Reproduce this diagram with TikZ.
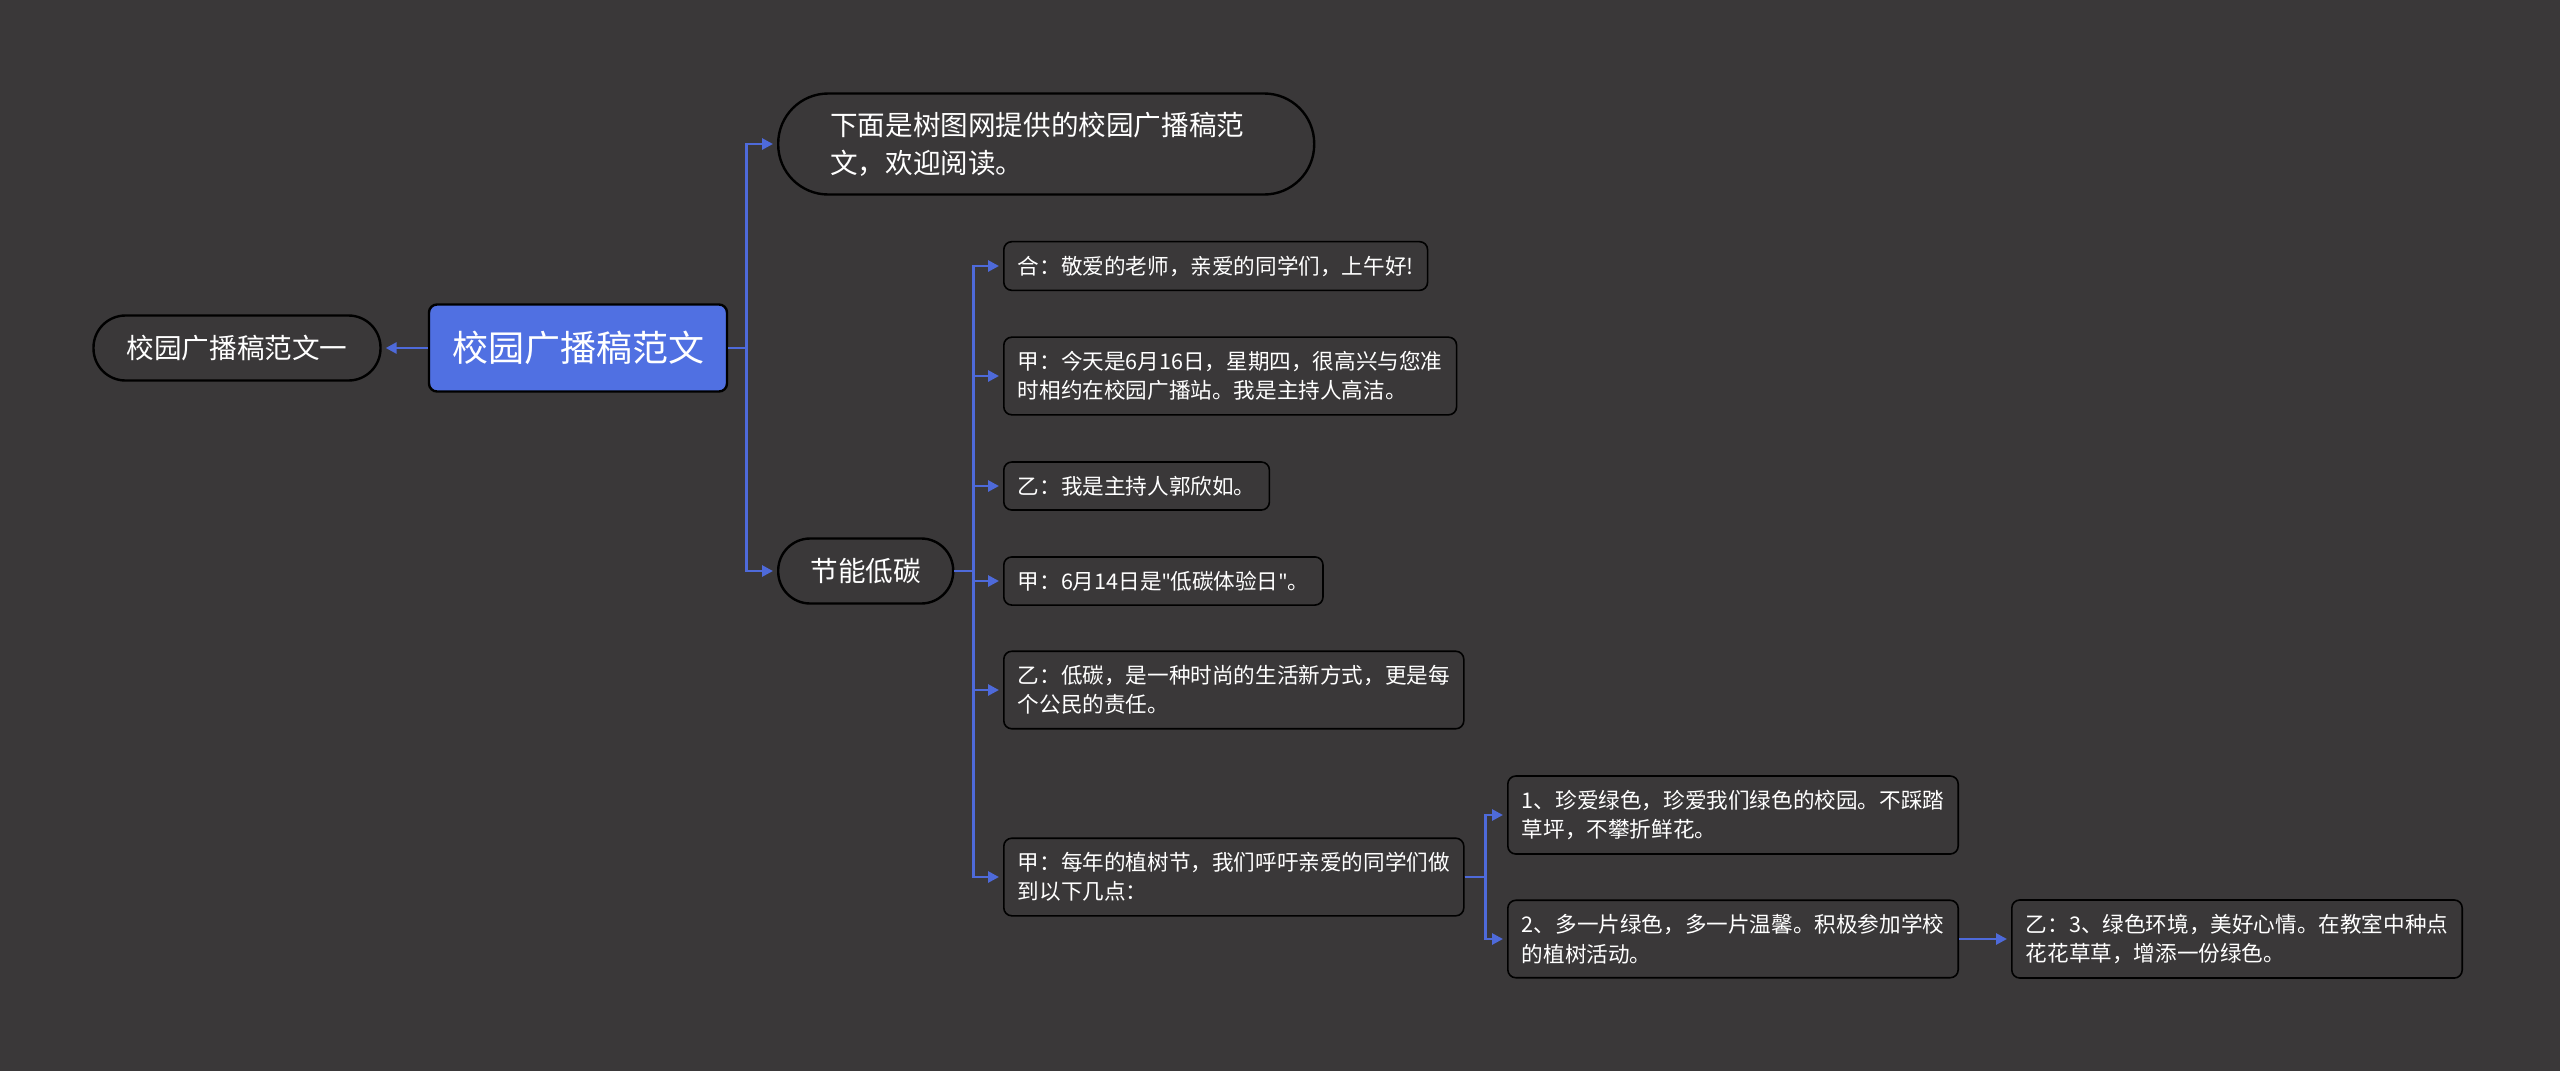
\documentclass[tikz,border=0pt]{standalone}
\usepackage{fontspec}
\setmainfont{Noto Sans CJK SC}
\newfontfamily\latinquote{Noto Sans}
\usetikzlibrary{arrows.meta, positioning}

\definecolor{bgdark}{RGB}{58,56,57}
\definecolor{rootblue}{RGB}{80,112,226}
\definecolor{linkblue}{RGB}{78,106,218}

\begin{document}
\begin{tikzpicture}[
                x=0.5pt, y=-0.5pt,
                >={Triangle[length=5.5pt,width=5.5pt]},
                topic/.style={draw=black, line width=1.2pt, fill=bgdark, text=white, rounded corners=16pt,
                    minimum height=32.5pt, font=\fontsize{13.8}{18.8}\selectfont},
                root/.style={draw=black, line width=1.2pt, fill=rootblue, text=white, rounded corners=4pt,
                    minimum width=149pt, minimum height=43.5pt, font=\fontsize{18}{22}\selectfont},
                leaf/.style={draw=black, line width=0.8pt, fill=bgdark, text=white, rounded corners=4pt,
                    align=left, inner xsep=7pt, inner ysep=7pt, minimum height=24pt, anchor=west,
                    font=\fontsize{10.8}{14.7}\selectfont},
                link/.style={draw=linkblue, line width=1.4pt, ->, shorten >=2pt}
            ]
            \useasboundingbox[fill=bgdark] (0,0) rectangle (2560,1071);
            \node[root] (root) at (578,348) {校园广播稿范文};
            \node[topic, minimum width=143.5pt] (sample1) at (237,348) {校园广播稿范文一};
            \node[topic, anchor=west, minimum height=50.5pt, rounded corners=25pt, text width=216pt,
                inner xsep=26pt, align=left] (notice) at (777,144) {下面是树图网提供的校园广播稿范\\文，欢迎阅读。};
            \node[topic, anchor=west, minimum width=87.5pt] (lowcarbon) at (777,571) {节能低碳};
            % lines of the broadcast
            \node[leaf] (l1) at (1003,266) {合：敬爱的老师，亲爱的同学们，上午好!};
            \node[leaf] (l2) at (1003,376) {甲：今天是6月16日，星期四，很高兴与您准\\时相约在校园广播站。我是主持人高洁。};
            \node[leaf] (l3) at (1003,486) {乙：我是主持人郭欣如。};
            \node[leaf] (l4) at (1003,581) {甲：6月14日是{\latinquote"}低碳体验日{\latinquote"}。};
            \node[leaf] (l5) at (1003,690) {乙：低碳，是一种时尚的生活新方式，更是每\\个公民的责任。};
            \node[leaf] (l6) at (1003,877) {甲：每年的植树节，我们呼吁亲爱的同学们做\\到以下几点：};
            \node[leaf] (p1) at (1507,815) {1、珍爱绿色，珍爱我们绿色的校园。不踩踏\\草坪，不攀折鲜花。};
            \node[leaf] (p2) at (1507,939) {2、多一片绿色，多一片温馨。积极参加学校\\的植树活动。};
            \node[leaf] (p3) at (2011,939) {乙：3、绿色环境，美好心情。在教室中种点\\花花草草，增添一份绿色。};
            \draw[link] (root) -- (sample1);
            \foreach \n in {notice, lowcarbon}
                \draw[link] (root.east) -- ++(18,0) |- (\n.west);
            \foreach \n in {l1, l2, l3, l4, l5, l6}
                \draw[link] (lowcarbon.east) -- ++(19,0) |- (\n.west);
            \foreach \n in {p1, p2}
                \draw[link] (l6.east) -- ++(21,0) |- (\n.west);
            \draw[link] (p2) -- (p3);
        \end{tikzpicture}
\end{document}
